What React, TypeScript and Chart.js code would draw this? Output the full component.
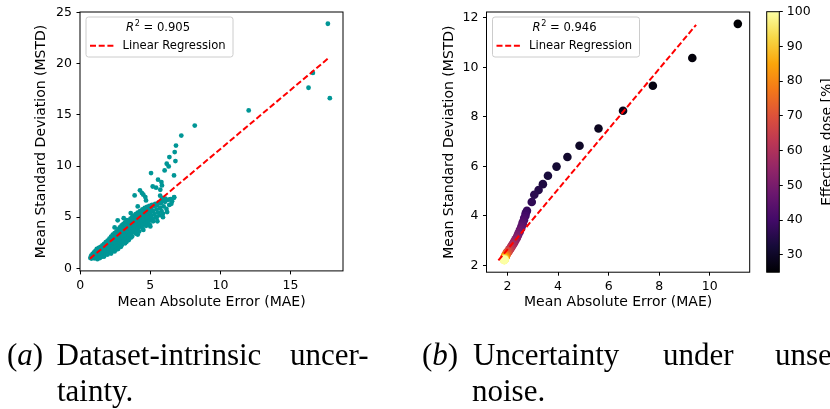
import { useEffect, useRef } from "react";
import { Chart, registerables } from "chart.js";

Chart.register(...registerables);

// ---------------- data: (a) dataset-intrinsic uncertainty ----------------
const aMAE = [
  0.72, 0.78, 0.8, 0.85, 0.88, 0.92, 0.95, 0.98, 1.0, 1.02,
  1.05, 1.08, 1.1, 1.12, 1.15, 1.18, 1.2, 1.22, 1.25, 1.28, 1.3, 1.32, 1.35, 1.38, 1.4, 1.42, 1.45, 1.48, 1.5,
  1.52, 1.55, 1.58, 1.6, 1.62, 1.65, 1.68, 1.7, 1.72, 1.75, 1.78, 1.8, 1.82, 1.85, 1.88, 1.9, 1.92, 1.95, 1.98,
  2.0, 2.02, 2.05, 2.08, 2.1, 2.12, 2.15, 2.18, 2.2, 2.22, 2.25, 2.28, 2.3, 2.32, 2.35, 2.38, 2.4, 2.42, 2.45, 2.48,
  2.5, 2.52, 2.55, 2.58, 2.6, 2.62, 2.65, 2.68, 2.7, 2.72, 2.75, 2.78, 2.8, 2.82, 2.85, 2.88, 2.9, 2.92, 2.95, 2.98,
  3.0, 3.02, 3.05, 3.08, 3.1, 3.12, 3.15, 3.18, 3.2, 3.22, 3.25, 3.28, 3.3, 3.32, 3.35, 3.38, 3.4, 3.42, 3.45, 3.48,
  3.5, 3.52, 3.55, 3.58, 3.6, 3.62, 3.65, 3.68, 3.7, 3.72, 3.75, 3.78, 3.8, 3.82, 3.85, 3.88, 3.9, 3.92, 3.95, 3.98,
  4.0, 4.03, 4.06, 4.1, 4.13, 4.16, 4.2, 4.23, 4.26, 4.3, 4.33, 4.36, 4.4, 4.43, 4.46, 4.5,
  4.53, 4.56, 4.6, 4.63, 4.66, 4.7, 4.73, 4.76, 4.8, 4.83, 4.86, 4.9, 4.93, 4.96,
  5.0, 5.04, 5.08, 5.12, 5.16, 5.2, 5.25, 5.3, 5.35, 5.4, 5.45, 5.5,
  5.55, 5.6, 5.65, 5.7, 5.75, 5.8, 5.85, 5.9, 5.95,
  6.05, 6.15, 6.25, 6.35, 6.45, 6.55, 6.7,
  2.6, 2.9, 3.3, 3.6, 4.1, 4.5, 5.0, 5.5, 5.9, 6.2, 6.5, 4.02, 1.6, 1.25,
  3.88, 4.26, 4.4, 4.5, 4.64, 4.69, 5.05, 5.17, 5.41, 5.55, 5.71, 5.79, 5.83, 6.4, 6.69, 2.67, 2.45, 3.1, 3.6, 4.1, 5.7, 5.85, 6.07,
  6.02, 6.17, 6.31, 6.69, 6.36, 6.79, 6.74, 6.83, 7.21, 8.17, 12.02, 16.29, 16.6, 17.67, 17.81,
  1.03, 1.13, 1.23, 1.33, 1.43, 1.53, 1.63, 1.73, 1.83, 1.93, 2.03, 2.13, 2.23, 2.33, 2.43, 2.53, 2.63, 2.73, 2.83, 2.93,
  3.03, 3.13, 3.23, 3.33, 3.43, 3.53, 3.63, 3.73, 3.83, 3.93, 4.03, 4.13, 4.23, 4.33, 4.43, 4.53, 4.63, 4.73, 4.83, 4.93,
  1.4, 1.7, 1.95, 2.2, 2.45, 2.7, 2.95, 3.2, 3.45, 3.7, 3.95, 4.2, 4.45, 4.7, 4.95, 5.2, 5.45,
];
const aMSTD = [
  1.02, 1.25, 0.95, 1.15, 1.4, 1.05, 1.3, 1.55, 0.98, 1.2,
  1.45, 1.7, 1.1, 1.35, 1.6, 1.9, 1.2, 0.9, 1.5, 1.75, 1.3, 2.0, 1.05, 1.6, 1.85, 1.35, 2.1, 1.15, 1.7,
  1.95, 1.45, 2.25, 1.25, 1.8, 2.05, 1.55, 2.4, 1.35, 1.9, 2.2, 1.6, 2.55, 1.4, 2.0, 2.35, 1.75, 2.7, 1.5,
  2.1, 2.5, 1.8, 2.9, 1.55, 2.3, 2.65, 2.0, 3.1, 1.7, 2.45, 2.85, 2.15, 3.3, 1.85, 2.6, 3.0, 2.3, 3.45, 2.0,
  2.75, 3.15, 2.45, 3.6, 2.1, 2.9, 3.35, 2.6, 3.8, 2.25, 3.05, 3.5, 2.75, 4.0, 2.4, 3.2, 3.65, 2.9, 4.2, 2.55,
  3.35, 3.8, 3.05, 4.35, 2.7, 3.5, 3.95, 3.2, 4.5, 2.9, 3.65, 4.1, 3.35, 4.7, 3.05, 3.8, 4.25, 3.5, 4.6, 3.2,
  3.95, 4.4, 3.65, 4.85, 3.35, 4.1, 4.55, 3.8, 5.0, 3.5, 4.25, 4.7, 3.95, 5.15, 3.65, 4.4, 4.85, 4.1, 5.3, 3.8,
  4.55, 5.0, 4.25, 5.45, 3.95, 4.7, 5.15, 4.4, 5.6, 4.1, 4.85, 5.3, 4.55, 5.75, 4.25, 5.0,
  5.45, 4.7, 5.9, 4.4, 5.15, 5.6, 4.85, 6.0, 4.55, 5.3, 5.75, 5.0, 6.1, 4.7,
  5.45, 5.9, 5.15, 6.2, 4.85, 5.6, 6.05, 5.3, 6.3, 5.0, 5.75, 6.2,
  5.45, 6.45, 5.2, 5.9, 6.35, 5.6, 6.6, 5.35, 6.05,
  6.5, 5.8, 6.7, 6.2, 6.75, 6.55, 6.95,
  1.85, 2.1, 2.6, 3.0, 3.3, 3.75, 4.1, 4.6, 5.0, 5.5, 6.3, 3.71, 1.15, 1.0,
  7.13, 7.62, 7.36, 7.2, 6.96, 6.64, 9.31, 8.0, 7.88, 8.66, 7.68, 8.43, 8.1, 6.74, 6.9, 4.69, 4.0, 4.9, 5.4, 6.05, 7.1, 6.85, 6.8,
  9.57, 10.22, 9.96, 9.08, 10.87, 10.48, 11.36, 12.0, 12.97, 13.95, 15.43, 17.65, 19.1, 23.9, 16.63,
  1.3, 1.5, 1.45, 1.7, 1.55, 1.65, 2.1, 1.75, 2.15, 2.05, 2.3, 2.55, 2.65, 2.5, 2.8, 3.0, 3.1, 3.25, 3.35, 3.45,
  3.6, 3.25, 3.85, 4.0, 3.9, 4.2, 4.3, 4.45, 4.6, 4.65, 4.8, 5.1, 4.95, 5.2, 5.35, 5.2, 5.5, 5.35, 5.85, 5.55,
  1.0, 1.15, 1.35, 1.45, 1.65, 1.9, 2.25, 2.45, 2.75, 3.1, 3.4, 3.6, 3.9, 4.15, 4.3, 4.6, 4.95,
];
const aFitMAE = [0.69, 17.79];
const aFitMSTD = [0.95, 20.63];
const aR2 = "0.905";
const aXTicks = [0, 5, 10, 15];
const aYTicks = [0, 5, 10, 15, 20, 25];

// ---------------- data: (b) uncertainty under unseen noise ----------------
const bDose = [
  25, 26, 27, 28, 29, 30, 31, 32, 33, 34, 35, 36, 37,
  38, 39, 40, 41, 42, 43, 44, 45, 46, 47, 48, 49, 50, 51, 52, 53, 54, 55, 56, 57, 58, 59, 60, 61, 62, 63,
  64, 65, 66, 67, 68, 69, 70, 71, 72, 73, 74, 75, 76, 77, 78, 79, 80, 81, 82, 83, 84, 85, 86, 87, 88,
  89, 90, 91, 92, 93, 94, 95, 96, 97, 98, 99, 100,
];
const bMAE = [
  11.11, 9.31, 7.75, 6.57, 5.6, 4.85, 4.37, 3.94, 3.6, 3.4, 3.23, 3.06, 2.96,
  2.77, 2.72, 2.71, 2.66, 2.65, 2.6, 2.6, 2.55, 2.54, 2.49, 2.48, 2.43, 2.42, 2.38, 2.37, 2.32, 2.31, 2.26, 2.26, 2.21, 2.21, 2.16, 2.16, 2.12, 2.12, 2.08,
  2.08, 2.04, 2.05, 2.01, 2.02, 1.98, 1.99, 1.96, 1.97, 1.94, 1.95, 1.93, 1.94, 1.91, 1.93, 1.9, 1.92, 1.89, 1.91, 1.89, 1.9, 1.88, 1.9, 1.88, 1.89,
  1.87, 1.89, 1.87, 1.88, 1.87, 1.88, 1.86, 1.88, 1.87, 1.88, 1.87, 1.88,
];
const bMSTD = [
  11.76, 10.38, 9.26, 8.25, 7.53, 6.83, 6.38, 5.99, 5.62, 5.28, 5.04, 4.85, 4.56,
  4.2, 4.1, 4.0, 3.91, 3.82, 3.73, 3.65, 3.57, 3.49, 3.42, 3.35, 3.28, 3.22, 3.16, 3.1, 3.05, 3.0, 2.95, 2.9, 2.86, 2.82, 2.78, 2.74, 2.71, 2.68, 2.65,
  2.62, 2.59, 2.57, 2.55, 2.53, 2.51, 2.49, 2.47, 2.45, 2.43, 2.42, 2.4, 2.39, 2.38, 2.36, 2.35, 2.34, 2.33, 2.32, 2.31, 2.3, 2.29, 2.28, 2.28, 2.27,
  2.26, 2.26, 2.25, 2.25, 2.24, 2.24, 2.23, 2.23, 2.22, 2.22, 2.21, 2.21,
];
const bFitMAE = [1.64, 9.46];
const bFitMSTD = [2.2, 11.72];
const bR2 = "0.946";
const bXTicks = [2, 4, 6, 8, 10];
const bYTicks = [2, 4, 6, 8, 10, 12];
const cbTicks = [30, 40, 50, 60, 70, 80, 90, 100];
const cbRange = [25, 100];

// ---------------- styles / layout ----------------
const W = 830;
const H = 409;
const FONT = '"DejaVu Sans", sans-serif';
const TICK_SIZE = 12.5;
const LABEL_SIZE = 14;
const LEGEND_SIZE = 11.6;
const TEAL = "rgb(0,150,150)";
const INFERNO = ["#000004", "#160b39", "#420a68", "#6a176e", "#932667", "#bc3754", "#dd513a", "#f37819", "#fca50a", "#f6d746", "#fcffa4"];

const AREA_A = { left: 80, right: 343, top: 11.8, bottom: 270.9 };
const LIM_A = { x: [-0.02, 18.75], y: [-0.25, 25.05] };
const AREA_B = { left: 486.5, right: 749.7, top: 11.7, bottom: 272.2 };
const LIM_B = { x: [1.17, 11.58], y: [1.72, 12.24] };
const AREA_CB = { left: 766.7, right: 779.3, top: 11.7, bottom: 272.2 };

Chart.defaults.font.family = FONT;
Chart.defaults.color = "#000";

function hexToRgb(h: string) {
  return [parseInt(h.slice(1, 3), 16), parseInt(h.slice(3, 5), 16), parseInt(h.slice(5, 7), 16)];
}
function inferno(t: number) {
  const c = Math.max(0, Math.min(1, t)) * 10;
  const i = Math.min(9, Math.floor(c));
  const f = c - i;
  const a = hexToRgb(INFERNO[i]);
  const b = hexToRgb(INFERNO[i + 1]);
  const m = a.map((v, k) => Math.round(v + (b[k] - v) * f));
  return `rgb(${m[0]},${m[1]},${m[2]})`;
}

function axis(kind: "x" | "y", lim: number[], ticks: number[], area: any, title: string, titleCenter: number) {
  const o: any = {
    type: "linear",
    min: lim[0],
    max: lim[1],
    afterBuildTicks: (s: any) => {
      s.ticks = ticks.map((v) => ({ value: v }));
    },
    ticks: {
      font: { size: TICK_SIZE, family: FONT },
      color: "#000",
      padding: kind === "x" ? 3.5 : 4.5,
      autoSkip: false,
      maxRotation: 0,
      callback: (v: any) => String(v),
    },
    grid: { display: true, drawOnChartArea: false, drawTicks: true, tickLength: 3.5, color: "#000", lineWidth: 1 },
    border: { display: false },
    title: { display: true, text: title, color: "#000", font: { size: LABEL_SIZE, family: FONT } },
  };
  if (kind === "x") {
    o.position = "bottom";
    o.afterFit = (s: any) => {
      s.height = H - area.bottom;
    };
    o.title.padding = { top: 0, bottom: H - titleCenter - LABEL_SIZE * 0.6 };
  } else {
    o.position = "left";
    o.afterFit = (s: any) => {
      s.width = area.left;
    };
    o.title.padding = { top: titleCenter - LABEL_SIZE * 0.6, bottom: 0 };
  }
  return o;
}

const framePlugin = {
  id: "frame",
  afterDatasetsDraw(chart: any) {
    const { ctx, chartArea: a } = chart;
    ctx.save();
    ctx.strokeStyle = "#000";
    ctx.lineWidth = 1;
    ctx.strokeRect(a.left, a.top, a.right - a.left, a.bottom - a.top);
    ctx.restore();
  },
};

function legendPlugin(r2: string) {
  return {
    id: "boxLegend",
    afterDraw(chart: any) {
      const { ctx, chartArea: a } = chart;
      const x = a.left + 6;
      const y = a.top + 5;
      const w = 147;
      const h = 40;
      const r = 2.5;
      ctx.save();
      ctx.beginPath();
      ctx.moveTo(x + r, y);
      ctx.lineTo(x + w - r, y);
      ctx.arcTo(x + w, y, x + w, y + r, r);
      ctx.lineTo(x + w, y + h - r);
      ctx.arcTo(x + w, y + h, x + w - r, y + h, r);
      ctx.lineTo(x + r, y + h);
      ctx.arcTo(x, y + h, x, y + h - r, r);
      ctx.lineTo(x, y + r);
      ctx.arcTo(x, y, x + r, y, r);
      ctx.closePath();
      ctx.fillStyle = "rgba(255,255,255,0.8)";
      ctx.fill();
      ctx.strokeStyle = "#cccccc";
      ctx.lineWidth = 1;
      ctx.stroke();

      ctx.fillStyle = "#000";
      ctx.textBaseline = "middle";
      ctx.textAlign = "left";
      const y1 = y + 10.5;
      let tx = x + 40;
      ctx.font = `italic ${LEGEND_SIZE}px ${FONT}`;
      ctx.fillText("R", tx, y1);
      tx += ctx.measureText("R").width + 0.6;
      ctx.font = `${LEGEND_SIZE * 0.7}px ${FONT}`;
      ctx.fillText("2", tx, y1 - 4);
      tx += ctx.measureText("2").width;
      ctx.font = `${LEGEND_SIZE}px ${FONT}`;
      ctx.fillText(" = " + r2, tx, y1);

      const y2 = y + 28.7;
      ctx.beginPath();
      ctx.setLineDash([6, 2.7]);
      ctx.strokeStyle = "red";
      ctx.lineWidth = 2;
      ctx.moveTo(x + 4, y2);
      ctx.lineTo(x + 28, y2);
      ctx.stroke();
      ctx.setLineDash([]);
      ctx.fillText("Linear Regression", x + 36.5, y2);
      ctx.restore();
    },
  };
}

const colorbarPlugin = {
  id: "colorbar",
  beforeDatasetsDraw(chart: any) {
    const { ctx, chartArea: a } = chart;
    const g = ctx.createLinearGradient(0, a.bottom, 0, a.top);
    INFERNO.forEach((c, i) => g.addColorStop(i / (INFERNO.length - 1), c));
    ctx.save();
    ctx.fillStyle = g;
    ctx.fillRect(a.left, a.top, a.right - a.left, a.bottom - a.top);
    ctx.restore();
  },
  afterDraw(chart: any) {
    const { ctx, chartArea: a } = chart;
    ctx.save();
    ctx.strokeStyle = "#000";
    ctx.lineWidth = 1;
    ctx.strokeRect(a.left, a.top, a.right - a.left, a.bottom - a.top);
    ctx.translate(830.5, (a.top + a.bottom) / 2);
    ctx.rotate(-Math.PI / 2);
    ctx.font = `${LABEL_SIZE}px ${FONT}`;
    ctx.fillStyle = "#000";
    ctx.textAlign = "center";
    ctx.textBaseline = "alphabetic";
    ctx.fillText("Effective dose [%]", 0, 0);
    ctx.restore();
  },
};

function baseOptions(area: any) {
  return {
    animation: false as const,
    responsive: false,
    events: [] as any[],
    layout: { padding: { left: 0, top: area.top, right: W - area.right, bottom: 0 } },
    plugins: { legend: { display: false }, tooltip: { enabled: false } },
  };
}

export default function App() {
  const refA = useRef<HTMLCanvasElement>(null);
  const refB = useRef<HTMLCanvasElement>(null);
  const refC = useRef<HTMLCanvasElement>(null);

  useEffect(() => {
    const charts: Chart[] = [];

    charts.push(
      new Chart(refA.current!, {
        type: "scatter",
        data: {
          datasets: [
            {
              data: aFitMAE.map((x, i) => ({ x, y: aFitMSTD[i] })),
              showLine: true,
              borderColor: "red",
              borderWidth: 2,
              borderDash: [6, 2.7],
              pointRadius: 0,
              order: 0,
            } as any,
            {
              data: aMAE.map((x, i) => ({ x, y: aMSTD[i] })),
              backgroundColor: TEAL,
              borderWidth: 0,
              pointRadius: 2.4,
              order: 1,
            },
          ],
        },
        options: {
          ...baseOptions(AREA_A),
          scales: {
            x: axis("x", LIM_A.x, aXTicks, AREA_A, "Mean Absolute Error (MAE)", 302),
            y: axis("y", LIM_A.y, aYTicks, AREA_A, "Mean Standard Deviation (MSTD)", 41),
          },
        } as any,
        plugins: [framePlugin, legendPlugin(aR2)],
      })
    );

    charts.push(
      new Chart(refB.current!, {
        type: "scatter",
        data: {
          datasets: [
            {
              data: bFitMAE.map((x, i) => ({ x, y: bFitMSTD[i] })),
              showLine: true,
              borderColor: "red",
              borderWidth: 2,
              borderDash: [6, 2.7],
              pointRadius: 0,
              order: 0,
            } as any,
            {
              data: bMAE.map((x, i) => ({ x, y: bMSTD[i] })),
              backgroundColor: bDose.map((d) => inferno((d - cbRange[0]) / (cbRange[1] - cbRange[0]))),
              borderWidth: 0,
              pointRadius: 4.3,
              order: 1,
            },
          ],
        },
        options: {
          ...baseOptions(AREA_B),
          scales: {
            x: axis("x", LIM_B.x, bXTicks, AREA_B, "Mean Absolute Error (MAE)", 302),
            y: axis("y", LIM_B.y, bYTicks, AREA_B, "Mean Standard Deviation (MSTD)", 449),
          },
        } as any,
        plugins: [framePlugin, legendPlugin(bR2)],
      })
    );

    charts.push(
      new Chart(refC.current!, {
        type: "scatter",
        data: { datasets: [] },
        options: {
          animation: false,
          responsive: false,
          events: [],
          layout: { padding: { left: AREA_CB.left, top: AREA_CB.top, right: 0, bottom: H - AREA_CB.bottom } },
          plugins: { legend: { display: false }, tooltip: { enabled: false } },
          scales: {
            x: { type: "linear", display: false, min: 0, max: 1 },
            y: {
              type: "linear",
              position: "right",
              min: cbRange[0],
              max: cbRange[1],
              afterBuildTicks: (s: any) => {
                s.ticks = cbTicks.map((v) => ({ value: v }));
              },
              afterFit: (s: any) => {
                s.width = W - AREA_CB.right;
              },
              ticks: { font: { size: TICK_SIZE, family: FONT }, color: "#000", padding: 4, autoSkip: false, callback: (v: any) => String(v) },
              grid: { display: true, drawOnChartArea: false, drawTicks: true, tickLength: 3.5, color: "#000", lineWidth: 1 },
              border: { display: false },
            },
          },
        } as any,
        plugins: [colorbarPlugin],
      })
    );

    return () => charts.forEach((c) => c.destroy());
  }, []);

  const cap = (left: number, top: number): any => ({
    position: "absolute",
    left,
    top,
    fontFamily: '"Liberation Serif", serif',
    fontSize: 31,
    lineHeight: "31px",
    whiteSpace: "nowrap",
    color: "#000",
  });
  const cv: any = { position: "absolute", left: 0, top: 0 };
  const L1 = 339;
  const L2 = 375;

  return (
    <div style={{ position: "fixed", left: 0, top: 0, width: W, height: H, overflow: "hidden", background: "#fff" }}>
      <canvas ref={refA} width={W} height={H} style={cv} />
      <canvas ref={refB} width={W} height={H} style={cv} />
      <canvas ref={refC} width={W} height={H} style={cv} />
      <span style={cap(7, L1)}>
        (<i>a</i>)
      </span>
      <span style={cap(56.5, L1)}>Dataset-intrinsic</span>
      <span style={cap(290, L1)}>uncer-</span>
      <span style={cap(57, L2)}>tainty.</span>
      <span style={cap(422, L1)}>
        (<i>b</i>)
      </span>
      <span style={cap(473, L1)}>Uncertainty</span>
      <span style={cap(663, L1)}>under</span>
      <span style={cap(775, L1)}>unseen</span>
      <span style={cap(472, L2)}>noise.</span>
    </div>
  );
}
